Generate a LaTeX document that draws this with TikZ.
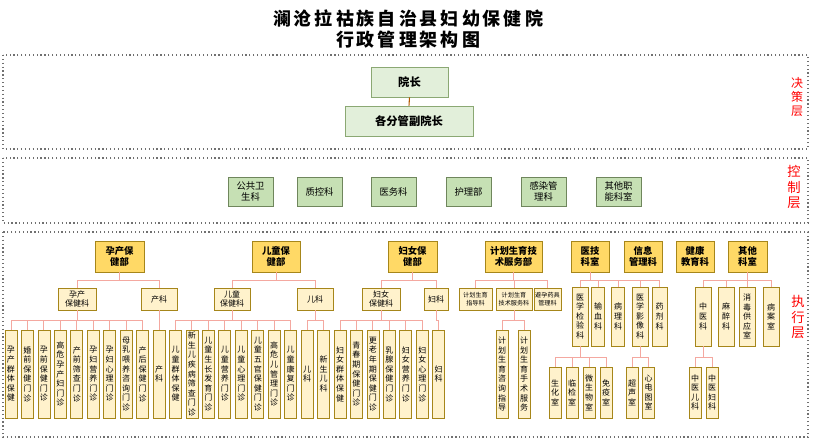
\documentclass[tikz,border=0pt]{standalone}
\usepackage{fontspec}
\setmainfont{Noto Sans CJK SC}
\definecolor{gold}{HTML}{FFD966}
\definecolor{goldb}{HTML}{A6861A}
\definecolor{lyel}{HTML}{FFF2CC}
\definecolor{lgrn}{HTML}{E2EFDA}
\definecolor{lgrnb}{HTML}{8BA873}
\definecolor{mgrn}{HTML}{C6E0B4}
\definecolor{conn}{HTML}{F4A8A0}
\definecolor{frm}{HTML}{707070}
\def\vt#1{\vtA#1\relax}
\def\vtA#1#2{#1\ifx#2\relax\else\\\expandafter\vtA\expandafter#2\fi}
\def\vx#1{\expandafter\vt\expandafter{#1}}
\newcommand\bx[7]{\node[#1,minimum width={(#5)*0.75pt},minimum height={(#6)*0.75pt}] (#2) at (#3,#4) {#7};}
\tikzset{
 base/.style={draw,inner sep=0pt,align=center,line width=0.6pt},
 dec/.style={base,fill=lgrn,draw=lgrnb,font=\bfseries\fontsize{8.5}{10}\selectfont},
 ctl/.style={base,fill=mgrn,draw=lgrnb!80!black,font=\fontsize{7}{8.2}\selectfont},
 dept/.style={base,fill=gold,draw=goldb,font=\bfseries\fontsize{7}{8.5}\selectfont},
 sub/.style={base,fill=lyel,draw=goldb,font=\fontsize{6}{7}\selectfont},
 tiny/.style={base,fill=lyel,draw=goldb,font=\fontsize{4.6}{5.6}\selectfont},
 leaf/.style={base,fill=lyel,draw=goldb,font=\fontsize{6}{7.2}\selectfont},
 cn/.style={draw=conn,line width=0.7pt},
 frame/.style={draw=frm,dotted,line width=0.9pt},
 lay/.style={text=red,align=center,font=\fontsize{9}{10.5}\selectfont},
}
\begin{document}
\begin{tikzpicture}[x=0.75pt,y=-0.75pt]
\useasboundingbox (0,0) rectangle (815,441);
% title
\node[font=\bfseries\fontsize{13.5}{15}\selectfont] (t1) at (408,19) {澜\,沧\,拉\,祜\,族\,自\,治\,县\,妇\,幼\,保\,健\,院};
\node[font=\bfseries\fontsize{13.5}{15}\selectfont] (t2) at (408,40) {行\,政\,管\,理\,架\,构\,图};
% frames
\draw[frame] (3,55) rectangle (808,149);
\draw[frame] (3,158) rectangle (808,223);
\draw[frame] (3,232) rectangle (808,437);
\node[lay] (l1) at (797,97) {决\\策\\层};
\node[lay,font=\fontsize{10}{11.5}\selectfont] (l2) at (794,187) {控\\制\\层};
\node[lay,font=\fontsize{10}{11.5}\selectfont] (l3) at (798,317) {执\\行\\层};
% decision
\bx{dec}{yz}{409.5}{82}{77}{30}{院长}
\bx{dec}{fyz}{409}{121}{128}{30}{各分管副院长}
\draw[draw=orange!70!black,line width=0.8pt] (yz.south) -- (fyz.north);
% control
\bx{ctl}{c1}{250.5}{191.5}{45}{29}{公共卫\\生科}
\bx{ctl}{c2}{319.5}{191.5}{45}{29}{质控科}
\bx{ctl}{c3}{393.5}{191.5}{45}{29}{医务科}
\bx{ctl}{c4}{468.5}{191.5}{45}{29}{护理部}
\bx{ctl}{c5}{543.5}{191.5}{45}{29}{感染管\\理科}
\bx{ctl}{c6}{618.5}{191.5}{45}{29}{其他职\\能科室}
% departments
\bx{dept}{YC}{119.5}{256.5}{49}{31}{孕产保\\健部}
\bx{dept}{ET}{276}{256.5}{48}{31}{儿童保\\健部}
\bx{dept}{FN}{412.5}{256.5}{49}{31}{妇女保\\健部}
\bx{dept}{JH}{513.5}{256.5}{57}{31}{计划生育技\\术服务部}
\bx{dept}{YJ}{590}{256.5}{38}{31}{医技\\科室}
\bx{dept}{XX}{643}{256.5}{38}{31}{信息\\管理科}
\bx{dept}{JK}{695}{256.5}{38}{31}{健康\\教育科}
\bx{dept}{QT}{747.5}{256.5}{39}{31}{其他\\科室}
% second level
\bx{sub}{YCK}{77}{299}{38}{22}{孕产\\保健科}
\bx{sub}{CK}{159}{299}{36}{22}{产科}
\bx{sub}{ETK}{232}{299}{36}{22}{儿童\\保健科}
\bx{sub}{EK}{315}{299}{36}{22}{儿科}
\bx{sub}{FNK}{381}{299}{38}{22}{妇女\\保健科}
\bx{sub}{FK}{436}{299}{24}{22}{妇科}
\bx{tiny}{J1}{475.5}{299}{33}{22}{计划生育\\指导科}
\bx{tiny}{J2}{514}{299}{36}{22}{计划生育\\技术服务科}
\bx{tiny}{J3}{547.5}{299}{27}{22}{避孕药具\\管理科}
\foreach \n/\x/\w/\t in {Y1/580/16/医学检验科,Y2/598/13/输血科,Y3/618/13/病理科,Y4/640/16/医学影像科,Y5/659.5/15/药剂科,Q1/703/16/中医科,Q2/726/16/麻醉科,Q3/747/16/消毒供应室,Q4/771/16/病案室}
  {\bx{leaf}{\n}{\x}{316.5}{\w}{59}{\vx{\t}}}
% leaves
\foreach \i/\t in {0/孕产群体保健,1/婚前保健门诊,2/孕前保健门诊,3/高危孕产妇门诊,4/产前筛查门诊,5/孕妇营养门诊,6/孕妇心理门诊,7/母乳喂养咨询门诊,8/产后保健门诊,9/产科,10/儿童群体保健,11/新生儿疾病筛查门诊,12/儿童生长发育门诊,13/儿童营养门诊,14/儿童心理门诊,15/儿童五官保健门诊,16/高危儿管理门诊,17/儿童康复门诊,18/儿科,19/新生儿科,20/妇女群体保健,21/青春期保健门诊,22/更老年期保健门诊,23/乳腺保健门诊,24/妇女营养门诊,25/妇女心理门诊,26/妇科}
  {\pgfmathsetmacro\cx{11+16.45*\i}\bx{leaf}{L\i}{\cx}{374}{12}{88}{\vx{\t}}}
\bx{leaf}{P1}{502}{374}{12}{88}{\vt{计划生育咨询指导}}
\bx{leaf}{P2}{524}{374}{12}{88}{\vt{计划生育手术服务}}
\foreach \n/\x/\t in {S1/555/生化室,S2/572/临检室,S3/589/微生物室,S4/606/免疫室,S5/632/超声室,S6/648.5/心电图室,S7/695/中医儿科,S8/712/中医妇科}
  {\bx{leaf}{\n}{\x}{392.5}{12}{51}{\vx{\t}}}
% connectors
\foreach \a/\b in {YC/YCK,YC/CK,ET/ETK,ET/EK,FN/FNK,FN/FK,JH/J1,JH/J2,JH/J3,YJ/Y1,YJ/Y2,YJ/Y3,YJ/Y4,YJ/Y5,QT/Q1,QT/Q2,QT/Q3,QT/Q4}
  {\draw[cn] (\a.south) -- ++(0,8) -| (\b.north);}
\foreach \i in {0,...,8} {\draw[cn] (YCK.south) -- ++(0,10) -| (L\i.north);}
\draw[cn] (CK.south) -- ++(0,10) -| (L9.north);
\foreach \i in {10,...,17} {\draw[cn] (ETK.south) -- ++(0,10) -| (L\i.north);}
\foreach \i in {18,19} {\draw[cn] (EK.south) -- ++(0,10) -| (L\i.north);}
\foreach \i in {20,...,25} {\draw[cn] (FNK.south) -- ++(0,10) -| (L\i.north);}
\draw[cn] (FK.south) -- ++(0,10) -| (L26.north);
\foreach \b in {P1,P2} {\draw[cn] (J2.south) -- ++(0,10) -| (\b.north);}
\foreach \b in {S1,S2,S3,S4} {\draw[cn] (Y1.south) -- ++(0,11) -| (\b.north);}
\foreach \b in {S5,S6} {\draw[cn] (Y4.south) -- ++(0,11) -| (\b.north);}
\foreach \b in {S7,S8} {\draw[cn] (Q1.south) -- ++(0,11) -| (\b.north);}
\end{tikzpicture}
\end{document}
